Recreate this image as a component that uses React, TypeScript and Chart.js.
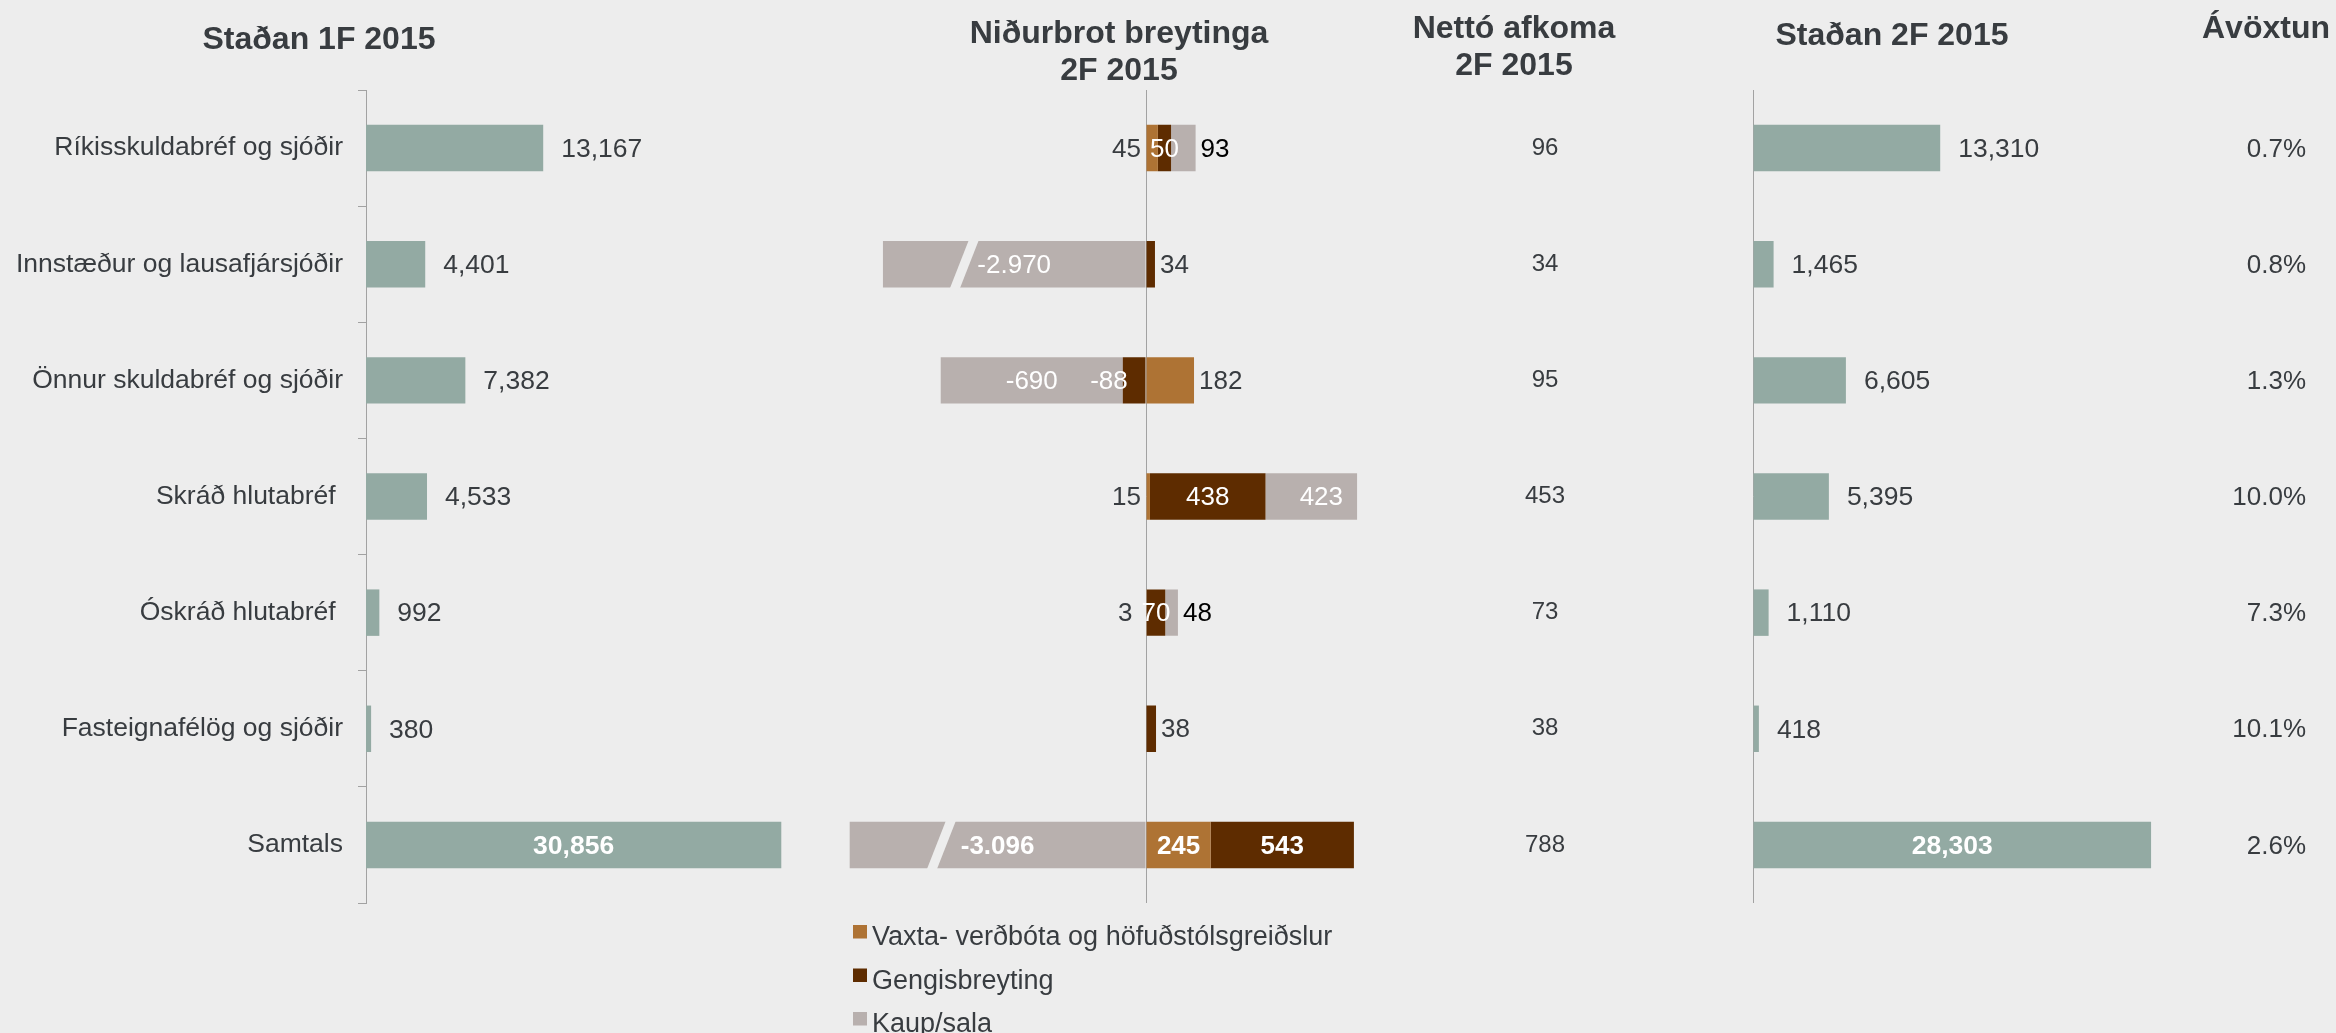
import React, { useEffect, useRef } from 'react';
import { Chart, registerables } from 'chart.js';

Chart.register(...registerables);

// ---------------- data ----------------
const categories = [
  'Ríkisskuldabréf og sjóðir',
  'Innstæður og lausafjársjóðir',
  'Önnur skuldabréf og sjóðir',
  'Skráð hlutabréf ',
  'Óskráð hlutabréf ',
  'Fasteignafélög og sjóðir',
  'Samtals',
];
const stadan1F = [13167, 4401, 7382, 4533, 992, 380, 30856];
const vaxta = [45, null, 182, 15, 3, null, 245];
const gengis = [50, 34, -88, 438, 70, 38, 543];
const kaupSala = [93, -2970, -690, 423, 48, null, -3096];
const netto = [96, 34, 95, 453, 73, 38, 788];
const stadan2F = [13310, 1465, 6605, 5395, 1110, 418, 28303];
const avoxtun = [0.7, 0.8, 1.3, 10.0, 7.3, 10.1, 2.6];
const seriesLabels = ['Vaxta- verðbóta og höfuðstólsgreiðslur', 'Gengisbreyting', 'Kaup/sala'];
const panelTitles = [
  ['Staðan 1F 2015'],
  ['Niðurbrot breytinga', '2F 2015'],
  ['Nettó afkoma', '2F 2015'],
  ['Staðan 2F 2015'],
  ['Ávöxtun'],
];

// ---------------- layout / style ----------------
const W = 2336;
const H = 1033;
const FONT = '"Liberation Sans", Arial, Helvetica, sans-serif';
const BG = '#EDEDED';
const TEXT = '#383C40';
const AXIS = '#A2A2A2';
const GREEN = '#93AAA3';
const ORANGE = '#AE7334';
const DARK = '#5E2C00';
const GRAY = '#B8B0AE';

const TOP = 90;
const BOTTOM = 903;
const LABEL_DY = 1.5;

const LEFT_ZERO = 366;
const LEFT_MAX = 35000;
const LEFT_UPP = 74.3; // units per pixel

const MID_ZERO = 1146;
const MID_MIN = -1200;
const MID_MAX = 800;
const MID_UPP = 3.79;
// axis break on the "Niðurbrot" axis: values below BREAK_FROM are shortened by BREAK_SPAN
const BREAK_FROM = -1000;
const BREAK_SPAN = 1973;
const breakAxis = (v: number | null) => (v != null && v < BREAK_FROM ? v + BREAK_SPAN : v);

const RIGHT_ZERO = 1753;
const RIGHT_MAX = 30000;
const RIGHT_UPP = 71.1;

const titleLayout = [
  { x: 319, ys: [49] },
  { x: 1119, ys: [43, 80] },
  { x: 1514, ys: [38, 75] },
  { x: 1892, ys: [45] },
  { x: 2266, ys: [38] },
];
const NETTO_X = 1545;
const AVOX_RIGHT_X = 2306;

const font = (size: number, bold = false) => `${bold ? 'bold ' : ''}${size}px ${FONT}`;

const fmt = (v: number, sep: string) => {
  const s = Math.abs(Math.round(v))
    .toString()
    .replace(/\B(?=(\d{3})+(?!\d))/g, sep);
  return (v < 0 ? '-' : '') + s;
};

const zeroLineGrid = {
  drawTicks: false,
  lineWidth: 1,
  color: (c: any) => (c.tick && c.tick.value === 0 ? AXIS : 'rgba(0,0,0,0)'),
};

const baseOptions = (padding: any) => ({
  responsive: false,
  animation: false as const,
  devicePixelRatio: 1,
  indexAxis: 'y' as const,
  events: [] as any[],
  layout: { padding },
  plugins: {
    legend: { display: false },
    tooltip: { enabled: false },
    title: { display: false },
  },
});

// ---------------- plugins ----------------
const sideLabelsPlugin = {
  id: 'sideLabels',
  afterDatasetsDraw(chart: any) {
    const ctx = chart.ctx;
    const meta = chart.getDatasetMeta(0);
    const data = chart.data.datasets[0].data as number[];
    const last = data.length - 1;
    ctx.save();
    meta.data.forEach((el: any, i: number) => {
      const v = data[i];
      const text = fmt(v, ',');
      ctx.textBaseline = 'middle';
      if (i === last) {
        ctx.font = font(26.5, true);
        ctx.fillStyle = '#FFFFFF';
        ctx.textAlign = 'center';
        ctx.fillText(text, (el.x + el.base) / 2, el.y + LABEL_DY);
      } else {
        ctx.font = font(26.5);
        ctx.fillStyle = TEXT;
        ctx.textAlign = 'left';
        ctx.fillText(text, el.x + 18, el.y + LABEL_DY);
      }
    });
    ctx.restore();
  },
};

const titlesPlugin = {
  id: 'panelTitles',
  afterDraw(chart: any) {
    const ctx = chart.ctx;
    ctx.save();
    ctx.font = font(32, true);
    ctx.fillStyle = TEXT;
    ctx.textAlign = 'center';
    ctx.textBaseline = 'alphabetic';
    panelTitles.forEach((lines, k) => {
      const lay = titleLayout[k];
      lines.forEach((line, j) => ctx.fillText(line, lay.x, lay.ys[j]));
    });
    ctx.restore();
  },
};

const midSeries = [vaxta, gengis, kaupSala];

type Lbl = { text: string; x: number; y: number; align: CanvasTextAlign; color: string; bold: boolean; w: number; kind: string };

const midLabelsPlugin = {
  id: 'midLabels',
  afterDatasetsDraw(chart: any) {
    const ctx = chart.ctx;
    const zeroPx = chart.scales.x.getPixelForValue(0);
    const last = categories.length - 1;
    ctx.save();
    // axis-break gaps on the shortened bars
    const grayMeta = chart.getDatasetMeta(2);
    kaupSala.forEach((v, i) => {
      if (v == null || v >= BREAK_FROM) return;
      const el: any = grayMeta.data[i];
      const gc = el.x + 0.31 * (el.base - el.x);
      const top = el.y - el.height / 2 - 1;
      const bot = el.y + el.height / 2 + 1;
      const slant = 9.5;
      const hw = 5;
      ctx.fillStyle = BG;
      ctx.beginPath();
      ctx.moveTo(gc + slant - hw, top);
      ctx.lineTo(gc + slant + hw, top);
      ctx.lineTo(gc - slant + hw, bot);
      ctx.lineTo(gc - slant - hw, bot);
      ctx.closePath();
      ctx.fill();
    });
    // data labels
    ctx.textBaseline = 'middle';
    categories.forEach((_, i) => {
      const row: Lbl[] = [];
      midSeries.forEach((series, d) => {
        const v = series[i];
        if (v == null || v === 0) return;
        const el: any = chart.getDatasetMeta(d).data[i];
        const x1 = Math.min(el.x, el.base);
        const x2 = Math.max(el.x, el.base);
        const bold = i === last;
        ctx.font = font(26, bold);
        const text = fmt(v, '.');
        const tw = ctx.measureText(text).width;
        const same = (w: number | null) => w != null && w !== 0 && Math.sign(w) === Math.sign(v);
        const outer = !midSeries.slice(d + 1).some((s) => same(s[i]));
        const inner = !midSeries.slice(0, d).some((s) => same(s[i]));
        const y = el.y + LABEL_DY;
        if (x2 - x1 >= tw + 8) {
          row.push({ text, x: (x1 + x2) / 2, y, align: 'center', color: '#FFFFFF', bold, w: tw, kind: 'in' });
        } else if (outer) {
          const color = d === 2 ? '#000000' : TEXT;
          if (v > 0) row.push({ text, x: x2 + 5, y, align: 'left', color, bold, w: tw, kind: 'out' });
          else row.push({ text, x: x1 - 5, y, align: 'right', color, bold, w: tw, kind: 'out' });
        } else if (inner) {
          if (v > 0) row.push({ text, x: zeroPx - 5, y, align: 'right', color: TEXT, bold, w: tw, kind: 'base' });
          else row.push({ text, x: x1 + 5, y, align: 'right', color: '#FFFFFF', bold, w: tw, kind: 'in' });
        } else {
          row.push({ text, x: (x1 + x2) / 2, y, align: 'center', color: '#FFFFFF', bold, w: tw, kind: 'in' });
        }
      });
      // keep a base label clear of a centred label that spills over the axis
      row.forEach((l) => {
        if (l.kind !== 'base') return;
        row.forEach((o) => {
          if (o === l || o.align !== 'center') return;
          const left = o.x - o.w / 2;
          if (left < l.x + 4) l.x = Math.min(l.x, left - 9);
        });
      });
      row.forEach((l) => {
        ctx.font = font(26, l.bold);
        ctx.fillStyle = l.color;
        ctx.textAlign = l.align;
        ctx.fillText(l.text, l.x, l.y);
      });
    });
    // Nettó afkoma column
    const y = chart.scales.y;
    ctx.font = font(24);
    ctx.fillStyle = TEXT;
    ctx.textAlign = 'center';
    netto.forEach((v, i) => ctx.fillText(fmt(v, ','), NETTO_X, y.getPixelForValue(i)));
    ctx.restore();
  },
  afterDraw(chart: any) {
    // legend (vertical list under the middle panel)
    const ctx = chart.ctx;
    ctx.save();
    ctx.font = font(27);
    ctx.textAlign = 'left';
    ctx.textBaseline = 'alphabetic';
    chart.data.datasets.forEach((ds: any, k: number) => {
      const top = 925 + k * 43.5;
      ctx.fillStyle = ds.backgroundColor;
      ctx.fillRect(853, top, 14, 13.5);
      ctx.fillStyle = TEXT;
      ctx.fillText(ds.label, 872, top + 20);
    });
    ctx.restore();
  },
};

const avoxtunPlugin = {
  id: 'avoxtun',
  afterDatasetsDraw(chart: any) {
    const ctx = chart.ctx;
    const y = chart.scales.y;
    ctx.save();
    ctx.font = font(26);
    ctx.fillStyle = TEXT;
    ctx.textAlign = 'right';
    ctx.textBaseline = 'middle';
    avoxtun.forEach((v, i) => ctx.fillText(v.toFixed(1) + '%', AVOX_RIGHT_X, y.getPixelForValue(i) + LABEL_DY));
    ctx.restore();
  },
};

// ---------------- configs ----------------
const leftConfig = (): any => ({
  type: 'bar',
  data: {
    labels: categories,
    datasets: [
      { label: 'Staðan 1F 2015', data: stadan1F, backgroundColor: GREEN, borderWidth: 0, barPercentage: 0.4, categoryPercentage: 1 },
    ],
  },
  options: {
    ...baseOptions({ left: 0, right: W - (LEFT_ZERO + LEFT_MAX / LEFT_UPP), top: TOP, bottom: H - BOTTOM }),
    scales: {
      x: { type: 'linear', display: false, min: 0, max: LEFT_MAX },
      y: {
        type: 'category',
        position: 'left',
        afterFit: (s: any) => {
          s.width = LEFT_ZERO;
        },
        ticks: { font: { family: FONT, size: 26.5 }, color: TEXT, padding: 15, autoSkip: false },
        grid: { offset: true, drawOnChartArea: false, drawTicks: true, tickLength: 8, color: AXIS, lineWidth: 1 },
        border: { display: true, color: AXIS, width: 1 },
      },
    },
  },
  plugins: [sideLabelsPlugin, titlesPlugin],
});

const midConfig = (): any => ({
  type: 'bar',
  data: {
    labels: categories,
    datasets: [
      { label: seriesLabels[0], data: vaxta, backgroundColor: ORANGE },
      { label: seriesLabels[1], data: gengis, backgroundColor: DARK },
      { label: seriesLabels[2], data: kaupSala.map(breakAxis), backgroundColor: GRAY },
    ].map((d) => ({ ...d, stack: 's', borderWidth: 0, barPercentage: 0.4, categoryPercentage: 1 })),
  },
  options: {
    ...baseOptions({
      left: MID_ZERO + MID_MIN / MID_UPP,
      right: W - (MID_ZERO + MID_MAX / MID_UPP),
      top: TOP,
      bottom: H - BOTTOM,
    }),
    scales: {
      x: {
        type: 'linear',
        stacked: true,
        min: MID_MIN,
        max: MID_MAX,
        ticks: { display: false },
        grid: zeroLineGrid,
        border: { display: false },
        afterBuildTicks: (s: any) => {
          s.ticks = [{ value: 0 }];
        },
      },
      y: { type: 'category', stacked: true, display: false },
    },
  },
  plugins: [midLabelsPlugin],
});

const rightConfig = (): any => ({
  type: 'bar',
  data: {
    labels: categories,
    datasets: [
      { label: 'Staðan 2F 2015', data: stadan2F, backgroundColor: GREEN, borderWidth: 0, barPercentage: 0.4, categoryPercentage: 1 },
    ],
  },
  options: {
    ...baseOptions({ left: RIGHT_ZERO, right: W - (RIGHT_ZERO + RIGHT_MAX / RIGHT_UPP), top: TOP, bottom: H - BOTTOM }),
    scales: {
      x: {
        type: 'linear',
        min: 0,
        max: RIGHT_MAX,
        ticks: { display: false },
        grid: zeroLineGrid,
        border: { display: false },
        afterBuildTicks: (s: any) => {
          s.ticks = [{ value: 0 }];
        },
      },
      y: { type: 'category', display: false },
    },
  },
  plugins: [sideLabelsPlugin, avoxtunPlugin],
});

export default function App() {
  const leftRef = useRef<HTMLCanvasElement>(null);
  const midRef = useRef<HTMLCanvasElement>(null);
  const rightRef = useRef<HTMLCanvasElement>(null);

  useEffect(() => {
    Chart.defaults.font.family = FONT;
    const charts = [
      new Chart(leftRef.current as HTMLCanvasElement, leftConfig()),
      new Chart(midRef.current as HTMLCanvasElement, midConfig()),
      new Chart(rightRef.current as HTMLCanvasElement, rightConfig()),
    ];
    return () => charts.forEach((c) => c.destroy());
  }, []);

  const canvasStyle: React.CSSProperties = { position: 'absolute', left: 0, top: 0, width: W, height: H };
  return (
    <div style={{ position: 'fixed', left: 0, top: 0, width: W, height: H, background: BG, overflow: 'hidden' }}>
      <canvas ref={leftRef} width={W} height={H} style={canvasStyle} />
      <canvas ref={midRef} width={W} height={H} style={canvasStyle} />
      <canvas ref={rightRef} width={W} height={H} style={canvasStyle} />
    </div>
  );
}
